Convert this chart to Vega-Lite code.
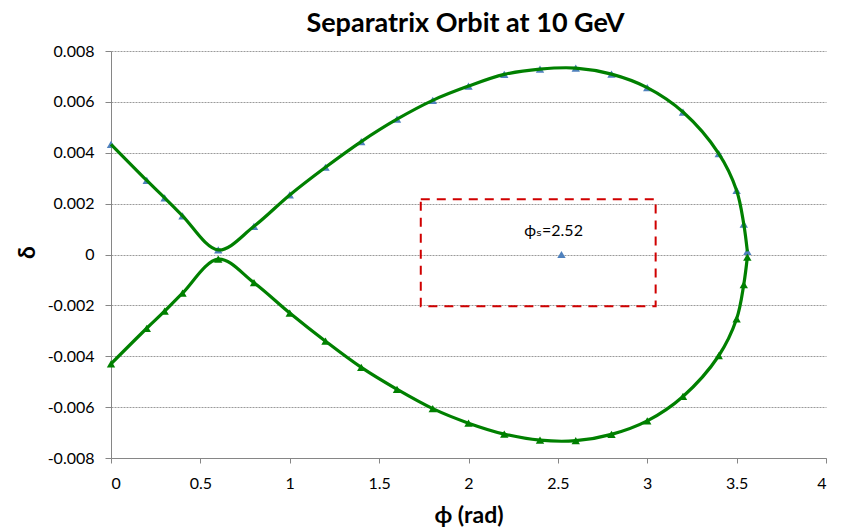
{
  "$schema": "https://vega.github.io/schema/vega-lite/v6.json",
  "autosize": "none",
  "width": 715,
  "height": 407,
  "padding": {"left": 111, "top": 51, "right": 39, "bottom": 73},
  "background": "white",
  "title": {
    "text": "Separatrix Orbit at 10 GeV",
    "font": "Lato, DejaVu Sans",
    "fontSize": 27,
    "fontWeight": "bold",
    "color": "#000000",
    "anchor": "middle",
    "frame": "group",
    "baseline": "alphabetic",
    "offset": 16,
    "dx": -3,
    "dy": 32
  },
  "datasets": {
    "orbit": [
      {"series": "upper", "phi": 0, "delta": 0.00433},
      {"series": "upper", "phi": 0.2, "delta": 0.00291},
      {"series": "upper", "phi": 0.3, "delta": 0.00223},
      {"series": "upper", "phi": 0.4, "delta": 0.00152},
      {"series": "upper", "phi": 0.6, "delta": 0.00018},
      {"series": "upper", "phi": 0.8, "delta": 0.00111},
      {"series": "upper", "phi": 1.0, "delta": 0.00234},
      {"series": "upper", "phi": 1.2, "delta": 0.00343},
      {"series": "upper", "phi": 1.4, "delta": 0.00444},
      {"series": "upper", "phi": 1.6, "delta": 0.00532},
      {"series": "upper", "phi": 1.8, "delta": 0.00606},
      {"series": "upper", "phi": 2.0, "delta": 0.00662},
      {"series": "upper", "phi": 2.2, "delta": 0.00708},
      {"series": "upper", "phi": 2.4, "delta": 0.00729},
      {"series": "upper", "phi": 2.6, "delta": 0.00733},
      {"series": "upper", "phi": 2.8, "delta": 0.00709},
      {"series": "upper", "phi": 3.0, "delta": 0.00656},
      {"series": "upper", "phi": 3.2, "delta": 0.0056},
      {"series": "upper", "phi": 3.4, "delta": 0.00397},
      {"series": "upper", "phi": 3.5, "delta": 0.00252},
      {"series": "upper", "phi": 3.54, "delta": 0.00119},
      {"series": "upper", "phi": 3.56, "delta": 0.00012},
      {"series": "lower", "phi": 0, "delta": -0.0043},
      {"series": "lower", "phi": 0.2, "delta": -0.0029},
      {"series": "lower", "phi": 0.3, "delta": -0.00223},
      {"series": "lower", "phi": 0.4, "delta": -0.00152},
      {"series": "lower", "phi": 0.6, "delta": -0.00018},
      {"series": "lower", "phi": 0.8, "delta": -0.00111},
      {"series": "lower", "phi": 1.0, "delta": -0.0023},
      {"series": "lower", "phi": 1.2, "delta": -0.00341},
      {"series": "lower", "phi": 1.4, "delta": -0.00444},
      {"series": "lower", "phi": 1.6, "delta": -0.0053},
      {"series": "lower", "phi": 1.8, "delta": -0.00606},
      {"series": "lower", "phi": 2.0, "delta": -0.00663},
      {"series": "lower", "phi": 2.2, "delta": -0.00706},
      {"series": "lower", "phi": 2.4, "delta": -0.0073},
      {"series": "lower", "phi": 2.6, "delta": -0.00732},
      {"series": "lower", "phi": 2.8, "delta": -0.00707},
      {"series": "lower", "phi": 3.0, "delta": -0.00654},
      {"series": "lower", "phi": 3.2, "delta": -0.00558},
      {"series": "lower", "phi": 3.4, "delta": -0.00398},
      {"series": "lower", "phi": 3.5, "delta": -0.00253},
      {"series": "lower", "phi": 3.54, "delta": -0.00118},
      {"series": "lower", "phi": 3.56, "delta": -0.0001},
      {"series": "center", "phi": 2.52, "delta": 0}
    ],
    "box": [
      {"phi1": 1.733, "phi2": 3.047, "delta1": -0.00203, "delta2": 0.00217}
    ],
    "note": [
      {"label": "ϕₛ=2.52", "phi": 2.476, "delta": 0.00094}
    ]
  },
  "config": {
    "view": {"stroke": null},
    "font": "Lato, DejaVu Sans",
    "axis": {
      "labelFont": "Lato, DejaVu Sans",
      "labelFontSize": 16,
      "labelColor": "#000000",
      "titleFont": "Lato, DejaVu Sans",
      "titleFontWeight": "bold",
      "titleColor": "#000000",
      "domainColor": "#868686",
      "domainWidth": 1,
      "tickColor": "#868686",
      "tickWidth": 1
    }
  },
  "layer": [
    {
      "data": {"name": "box"},
      "mark": {"type": "rect", "fill": null, "fillOpacity": 0, "stroke": "#d00000", "strokeWidth": 2, "strokeDash": [9, 7]},
      "encoding": {
        "x": {"field": "phi1", "type": "quantitative", "scale": {"domain": [0, 4], "nice": false, "zero": false},
          "axis": {
            "values": [0, 0.5, 1, 1.5, 2, 2.5, 3, 3.5, 4],
            "format": ".1~f",
            "grid": false,
            "tickSize": 5,
            "labelPadding": 12,
            "title": "ϕ (rad)",
            "titleFontSize": 23,
            "titleBaseline": "alphabetic",
            "titleY": 64
          }},
        "x2": {"field": "phi2"},
        "y": {"field": "delta1", "type": "quantitative", "scale": {"domain": [-0.008, 0.008], "nice": false, "zero": false},
          "axis": {
            "values": [-0.008, -0.006, -0.004, -0.002, 0, 0.002, 0.004, 0.006, 0.008],
            "labelExpr": "datum.value == 0 ? '0' : (datum.value < 0 ? '-' + format(-datum.value, '.3f') : format(datum.value, '.3f'))",
            "grid": true,
            "gridColor": "#9a9a9a",
            "gridDash": [2, 1],
            "gridWidth": 1,
            "tickSize": 6,
            "labelPadding": 11,
            "title": "δ",
            "titleFontSize": 23,
            "titleAngle": 270,
            "titleAlign": "center",
            "titleBaseline": "middle",
            "titleX": -84,
            "titleY": 201
          }},
        "y2": {"field": "delta2"}
      }
    },
    {
      "data": {"name": "orbit"},
      "mark": {"type": "point", "shape": "triangle-up", "filled": true, "size": 70, "opacity": 1},
      "encoding": {
        "x": {"field": "phi", "type": "quantitative"},
        "y": {"field": "delta", "type": "quantitative"},
        "color": {"field": "series", "type": "nominal", "legend": null,
          "scale": {"domain": ["upper", "lower", "center"], "range": ["#4f81bd", "#008000", "#4f81bd"]}}
      }
    },
    {
      "data": {"name": "orbit"},
      "transform": [{"filter": "datum.series != 'center'"}],
      "mark": {"type": "line", "color": "#008000", "strokeWidth": 3.2, "interpolate": "catmull-rom"},
      "encoding": {
        "x": {"field": "phi", "type": "quantitative"},
        "y": {"field": "delta", "type": "quantitative"},
        "detail": {"field": "series", "type": "nominal"},
        "order": {"field": "phi", "type": "quantitative"}
      }
    },
    {
      "data": {"name": "note"},
      "mark": {"type": "text", "font": "Lato, DejaVu Sans", "fontSize": 16, "color": "#000000", "align": "center", "baseline": "middle"},
      "encoding": {
        "x": {"field": "phi", "type": "quantitative"},
        "y": {"field": "delta", "type": "quantitative"},
        "text": {"field": "label", "type": "nominal"}
      }
    }
  ]
}
